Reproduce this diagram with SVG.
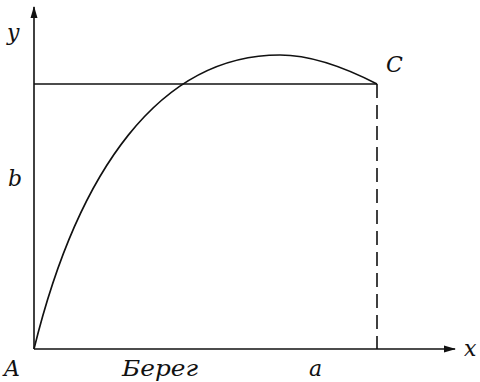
<svg xmlns="http://www.w3.org/2000/svg" width="480" height="382" viewBox="0 0 480 382">
<style>
.ln{stroke:#111;stroke-width:1.6;fill:none}
.t{font-family:"DejaVu Serif","Liberation Serif",serif;font-style:italic;font-size:22px;fill:#111}
</style>
<defs>
<marker id="ar" viewBox="0 0 12 10" refX="11" refY="5" markerWidth="12" markerHeight="10" markerUnits="userSpaceOnUse" orient="auto">
<path d="M0,1.5 L12,5 L0,8.5 Z" fill="#111"/>
</marker>
</defs>
<rect width="480" height="382" fill="#fff"/>
<g id="connectors">
<line class="ln" x1="34" y1="349" x2="34" y2="7" marker-end="url(#ar)"/>
<line class="ln" x1="34" y1="349" x2="455" y2="349" marker-end="url(#ar)"/>
<line class="ln" x1="34" y1="84" x2="377" y2="84"/>
<line class="ln" x1="377" y1="84" x2="377" y2="349" stroke-dasharray="14,7"/>
<path class="ln" d="M34,349 C78,170 160,55 280,55 C307,55 342,66 377,84"/>
</g>
<g id="labels">
<text class="t" x="7" y="40">y</text>
<text class="t" x="8" y="186">b</text>
<text class="t" x="4" y="376">A</text>
<text class="t" x="122" y="376" textLength="76" lengthAdjust="spacingAndGlyphs">Берег</text>
<text class="t" x="309" y="376">a</text>
<text class="t" x="464" y="356">x</text>
<text class="t" x="386" y="72">C</text>
</g>
</svg>
